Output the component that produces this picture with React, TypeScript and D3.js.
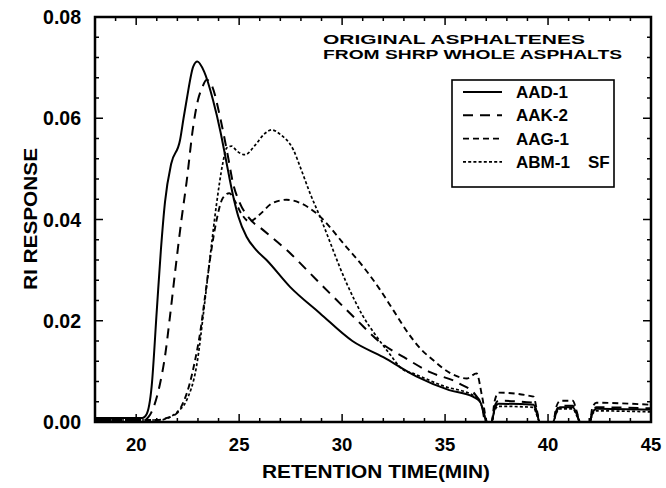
import React from "react";
import * as d3 from "d3";

// ---- Data (retention time in min, RI response) ----
const AAD1: [number, number][] = [
  [18, 0.0008], [20.3, 0.0008], [20.5, 0.0015], [20.75, 0.007], [21.0, 0.022], [21.2, 0.034],
  [21.4, 0.0435], [21.7, 0.051], [22.13, 0.0557], [22.3, 0.06], [22.45, 0.0636], [22.77, 0.0702],
  [22.97, 0.0712], [23.3, 0.0692], [23.73, 0.0636], [24.1, 0.0572], [24.35, 0.052], [24.7, 0.0448],
  [24.96, 0.0406], [25.36, 0.0366], [25.8, 0.0341], [26.33, 0.032], [27.47, 0.0267], [28.92, 0.0215],
  [30.5, 0.016], [32.0, 0.0128], [33.6, 0.009], [35.2, 0.0063], [36.35, 0.005], [36.7, 0.004],
  [36.9, 0.0015], [37.0, 0], [37.26, 0], [37.4, 0.0025], [37.6, 0.0036], [39.3, 0.0034], [39.45, 0.0018],
  [39.6, 0], [40.25, 0], [40.4, 0.002], [40.6, 0.0029], [41.2, 0.0029], [41.4, 0.0015], [41.55, 0],
  [42.03, 0], [42.15, 0.0018], [42.35, 0.0026], [45, 0.0024],
];
const AAK2: [number, number][] = [
  [18, 0.0004], [20.4, 0.0004], [20.6, 0.001], [20.75, 0.002], [21.16, 0.0076], [21.4, 0.013],
  [21.64, 0.0208], [21.9, 0.03], [22.2, 0.04], [22.45, 0.0475], [22.77, 0.0584], [23.0, 0.0636],
  [23.2, 0.066], [23.42, 0.0676], [23.7, 0.0662], [24.07, 0.0603], [24.46, 0.0524], [24.7, 0.0472],
  [25.04, 0.0432], [25.5, 0.0402], [26.17, 0.0379], [27.3, 0.034], [28.92, 0.0274], [30.7, 0.0202],
  [31.83, 0.0158], [33.0, 0.0128], [34.3, 0.0098], [35.7, 0.0076], [36.5, 0.0052], [36.8, 0.003],
  [36.95, 0], [37.26, 0], [37.4, 0.003], [37.6, 0.0042], [39.3, 0.0038], [39.45, 0.002], [39.6, 0],
  [40.25, 0], [40.4, 0.0022], [40.6, 0.0032], [41.2, 0.0032], [41.4, 0.0016], [41.55, 0], [42.03, 0],
  [42.15, 0.002], [42.35, 0.0029], [45, 0.0027],
];
const AAG1: [number, number][] = [
  [18, 0.0004], [21.0, 0.0004], [21.5, 0.0008], [21.97, 0.0017], [22.3, 0.004], [22.6, 0.0076],
  [22.85, 0.012], [23.1, 0.0175], [23.35, 0.025], [23.58, 0.032], [23.9, 0.0398], [24.2, 0.0442],
  [24.52, 0.0452], [24.8, 0.0436], [25.1, 0.0412], [25.5, 0.0396], [26.0, 0.041], [26.6, 0.0432],
  [27.3, 0.0439], [28.0, 0.0432], [28.76, 0.0412], [30.2, 0.0346], [31.0, 0.0308], [31.83, 0.0262],
  [32.5, 0.022], [33.2, 0.0176], [33.8, 0.0145], [34.4, 0.0123], [35.23, 0.0097], [36.05, 0.0086],
  [36.53, 0.0096], [36.8, 0.005], [37.05, 0],
  [37.26, 0], [37.4, 0.004], [37.6, 0.0058], [39.3, 0.005], [39.45, 0.0025], [39.6, 0], [40.25, 0],
  [40.4, 0.003], [40.6, 0.0042], [41.2, 0.0042], [41.4, 0.002], [41.55, 0], [42.03, 0],
  [42.15, 0.0028], [42.35, 0.0038], [45, 0.0034],
];
const ABM1: [number, number][] = [
  [18, 0.0004], [21.2, 0.0004], [21.48, 0.0007], [22.0, 0.002], [22.45, 0.0043], [22.93, 0.011],
  [23.34, 0.024], [23.6, 0.033], [23.9, 0.043], [24.2, 0.051], [24.39, 0.0541], [24.63, 0.0545],
  [24.9, 0.0535], [25.28, 0.0528], [25.8, 0.0548], [26.2, 0.0568], [26.58, 0.0577], [27.0, 0.0568],
  [27.63, 0.0538], [28.0, 0.05], [28.44, 0.0452], [28.92, 0.0406], [30.22, 0.0274], [31.0, 0.021],
  [31.67, 0.0169], [32.3, 0.0135], [32.9, 0.0105], [33.5, 0.0095], [35.0, 0.007], [36.4, 0.0052],
  [36.7, 0.004], [36.9, 0.0015], [37.0, 0], [37.26, 0], [37.4, 0.0022], [37.6, 0.0031], [39.3, 0.0029],
  [39.45, 0.0014], [39.6, 0], [40.25, 0], [40.4, 0.0017], [40.6, 0.0026], [41.2, 0.0026],
  [41.4, 0.0012], [41.55, 0], [42.03, 0], [42.15, 0.0015], [42.35, 0.0022], [45, 0.002],
];

const seriesNames = ["AAD-1", "AAK-2", "AAG-1", "ABM-1"];
const seriesData = [AAD1, AAK2, AAG1, ABM1];
const seriesDash = ["none", "10,7", "6,4", "3,2.2"];
const seriesWidth = [2, 2, 1.9, 1.7];

const xMajorTicks = [20, 25, 30, 35, 40, 45];
const yMajorTicks = [0, 0.02, 0.04, 0.06, 0.08];

const FONT = "'Liberation Sans', Arial, Helvetica, sans-serif";

export default function App() {
  const W = 666, H = 488;
  const L = 95, R = 651, T = 17, B = 422;
  const x = d3.scaleLinear().domain([18, 45]).range([L, R]);
  const y = d3.scaleLinear().domain([0, 0.08]).range([B, T]);
  const line = d3
    .line<[number, number]>()
    .x((d) => x(d[0]))
    .y((d) => y(d[1]))
    .curve(d3.curveMonotoneX);

  const xMinor = d3.range(18, 45.001, 1);
  const yMinor = d3.range(0, 0.0801, 0.004);

  return (
    <svg
      width={W}
      height={H}
      style={{ position: "absolute", left: 0, top: 0, background: "#fff" }}
      fontFamily={FONT}
    >
      <defs>
        <clipPath id="plotclip">
          <rect x={L} y={T} width={R - L} height={B - T + 1} />
        </clipPath>
      </defs>

      {/* series */}
      <g clipPath="url(#plotclip)">
        {seriesData.map((d, i) => (
          <path
            key={i}
            d={line(d) || ""}
            fill="none"
            stroke="#000"
            strokeWidth={seriesWidth[i]}
            strokeDasharray={seriesDash[i]}
          />
        ))}
      </g>

      {/* ticks */}
      <g stroke="#000" strokeWidth={1.5}>
        {xMinor.map((v) => {
          const major = Math.abs(v % 5) < 1e-6;
          const len = major ? 8 : 4;
          return (
            <g key={"x" + v}>
              <line x1={x(v)} x2={x(v)} y1={B} y2={B - len} />
              <line x1={x(v)} x2={x(v)} y1={T} y2={T + len} />
            </g>
          );
        })}
        {yMinor.map((v) => {
          const major = Math.abs(Math.round(v / 0.02) * 0.02 - v) < 1e-6;
          const len = major ? 8 : 4;
          return (
            <g key={"y" + v}>
              <line x1={L} x2={L + len} y1={y(v)} y2={y(v)} />
              <line x1={R} x2={R - len} y1={y(v)} y2={y(v)} />
            </g>
          );
        })}
      </g>

      {/* frame */}
      <rect x={L} y={T} width={R - L} height={B - T} fill="none" stroke="#000" strokeWidth={2.5} />

      {/* tick labels */}
      <g fontWeight="bold" fill="#000">
        {xMajorTicks.map((v) => (
          <text key={"xl" + v} x={x(v)} y={451} textAnchor="middle" fontSize={18.5}>
            {v}
          </text>
        ))}
        {yMajorTicks.map((v) => (
          <text key={"yl" + v} x={81} y={y(v) + 7} textAnchor="end" fontSize={19.5}>
            {v.toFixed(2)}
          </text>
        ))}
      </g>

      {/* axis titles */}
      <text
        x={376}
        y={478}
        textAnchor="middle"
        fontWeight="bold"
        fontSize={19}
        textLength={228}
        lengthAdjust="spacingAndGlyphs"
      >
        RETENTION TIME(MIN)
      </text>
      <text
        transform="translate(37,219) rotate(-90)"
        textAnchor="middle"
        fontWeight="bold"
        fontSize={19}
        textLength={142}
        lengthAdjust="spacingAndGlyphs"
      >
        RI RESPONSE
      </text>

      {/* title */}
      <text x={323} y={43.5} fontWeight="bold" fontSize={13.5} textLength={262} lengthAdjust="spacingAndGlyphs">
        ORIGINAL ASPHALTENES
      </text>
      <text x={323} y={59} fontWeight="bold" fontSize={13.5} textLength={299} lengthAdjust="spacingAndGlyphs">
        FROM SHRP WHOLE ASPHALTS
      </text>

      {/* legend */}
      <rect x={452} y={80} width={162} height={107} fill="#fff" stroke="#000" strokeWidth={1.6} />
      {seriesNames.map((name, i) => {
        const cy = 92 + i * 23.3;
        return (
          <g key={name}>
            <line
              x1={463}
              x2={502}
              y1={cy}
              y2={cy}
              stroke="#000"
              strokeWidth={seriesWidth[i]}
              strokeDasharray={seriesDash[i]}
            />
            <text x={516} y={cy + 6} fontWeight="bold" fontSize={17}>
              {name}
            </text>
            {i === 3 && (
              <text x={588} y={cy + 6} fontWeight="bold" fontSize={17}>
                SF
              </text>
            )}
          </g>
        );
      })}
    </svg>
  );
}
